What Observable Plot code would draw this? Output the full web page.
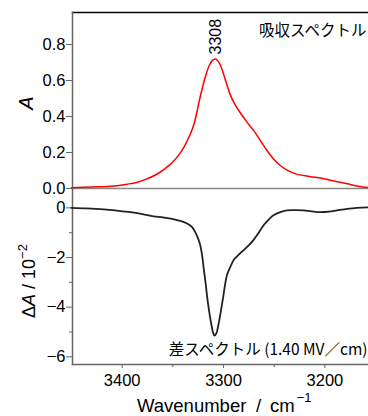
<!DOCTYPE html>
<html><head><meta charset="utf-8">
<script src="https://cdn.jsdelivr.net/npm/d3@7"></script>
<script src="https://cdn.jsdelivr.net/npm/@observablehq/plot@0.6"></script>
<style>
body{margin:0;background:#fff;}
#chart{width:368px;height:416px;position:relative;}
#chart svg{display:block;overflow:visible;}
</style></head>
<body><div id="chart"></div>
<script>
// Absorption spectrum (top)
const absWavenumber = [3450,3430,3411,3395,3385,3375,3365,3352,3345,3339,3333,3329,3323,3318,3314,3311,3308,3305,3302,3298,3294,3290,3284,3277,3270,3263,3257,3250,3244,3236,3228,3215,3201,3190,3178,3167,3157];
const absValue = [0.004,0.008,0.013,0.024,0.035,0.055,0.082,0.137,0.18,0.23,0.30,0.36,0.51,0.62,0.685,0.712,0.72,0.705,0.67,0.60,0.53,0.48,0.425,0.37,0.32,0.26,0.21,0.16,0.128,0.098,0.08,0.067,0.054,0.040,0.026,0.013,0.005];
// Difference spectrum (bottom), units of 10^-2
const diffWavenumber = [3450,3435,3418,3405,3392,3380,3369,3360,3352,3344,3336,3331,3328,3325,3323,3321,3319.6,3317.5,3315.6,3313.5,3312,3310.5,3308.8,3307,3305,3303,3300.5,3298.5,3296.6,3293,3290,3285,3280,3275,3270.5,3265,3260.5,3255,3250.7,3244,3237.5,3229,3221,3213,3204.7,3196,3188,3178,3168.5,3157];
const diffValue = [0,-0.02,-0.06,-0.11,-0.17,-0.25,-0.34,-0.38,-0.43,-0.51,-0.63,-0.78,-0.97,-1.25,-1.5,-1.95,-2.43,-3.1,-3.77,-4.35,-4.7,-5.0,-5.15,-5.05,-4.7,-4.25,-3.63,-3.1,-2.7,-2.35,-2.1,-1.88,-1.7,-1.5,-1.3,-0.98,-0.7,-0.45,-0.3,-0.17,-0.1,-0.09,-0.1,-0.14,-0.17,-0.15,-0.1,-0.04,0,0.02];

const xTicks = [3400,3300,3200];
const xMinorTicks = [3350,3250];
const absTicks = [0,0.2,0.4,0.6,0.8];
const diffTicks = [0,-2,-4,-6];
const diffMinorTicks = [-1,-3,-5];
const peakLabel = [3308];
const absTitle = ["吸収スペクトル"];
const diffTitle = ["差スペクトル (1.40 MV／cm)"];

const xDomain = [3449,3157];
const font = "'Liberation Sans', Arial, 'Noto Sans CJK JP', sans-serif";
const jpFont = "'Noto Sans CJK JP', sans-serif";
const axisGray = "#666";

const absData = absWavenumber.map((x,i)=>({x, y:absValue[i]}));
const diffData = diffWavenumber.map((x,i)=>({x, y:diffValue[i]}));
const fmtMinus = d => d < 0 ? "\u2212" + Math.abs(d) : String(d);
const blank = () => "";

const topPlot = Plot.plot({
  width:368, height:189, marginLeft:72, marginRight:0, marginTop:12, marginBottom:1,
  style:{fontFamily:font, fontSize:"16px", color:"#000", background:"transparent"},
  x:{domain:xDomain, axis:null},
  y:{domain:[0,0.978], axis:null},
  marks:[
    Plot.frame({anchor:"top", stroke:"#000", strokeWidth:1.5}),
    Plot.frame({anchor:"left", stroke:axisGray, strokeWidth:1.5}),
    Plot.ruleY([0], {stroke:"#888", strokeWidth:1.5}),
    Plot.axisY(absTicks, {tickSize:6, tickPadding:1, stroke:axisGray, tickFormat:d3.format(".1f"), label:null, fontSize:16.5}),
    Plot.line(absData, {x:"x", y:"y", stroke:"#ff0000", strokeWidth:1.5, curve:"catmull-rom"}),
    Plot.text(peakLabel, {x:d=>d, y:[0.745], text:d=>String(d), rotate:-90, textAnchor:"start", lineAnchor:"middle", fontSize:16}),
    Plot.text(absTitle, {frameAnchor:"top-right", text:d=>d, dx:-2, dy:19, textAnchor:"end", lineAnchor:"middle", fontSize:15.5, fontFamily:jpFont})
  ]
});

const bottomPlot = Plot.plot({
  width:368, height:227, marginLeft:72, marginRight:0, marginTop:0, marginBottom:52,
  style:{fontFamily:font, fontSize:"16px", color:"#000", background:"transparent"},
  x:{domain:xDomain, axis:null},
  y:{domain:[-6.31,0.74], axis:null},
  marks:[
    Plot.frame({anchor:"left", stroke:axisGray, strokeWidth:1.5}),
    Plot.frame({anchor:"bottom", stroke:axisGray, strokeWidth:1.5}),
    Plot.axisY(diffTicks, {tickSize:6, tickPadding:1, stroke:axisGray, tickFormat:fmtMinus, label:null, fontSize:16.5}),
    Plot.axisY(diffMinorTicks, {tickSize:3, stroke:axisGray, tickFormat:blank, label:null}),
    Plot.axisX(xTicks, {tickSize:4, tickPadding:6, stroke:axisGray, tickFormat:d=>String(d), label:null, fontSize:16.5}),
    Plot.axisX(xMinorTicks, {tickSize:3, stroke:axisGray, tickFormat:blank, label:null}),
    Plot.line(diffData, {x:"x", y:"y", stroke:"#222", strokeWidth:1.8, curve:"catmull-rom"}),
    Plot.text(diffTitle, {frameAnchor:"bottom-right", text:d=>d, dx:-1, dy:-14, textAnchor:"end", lineAnchor:"middle", fontSize:15.5, fontFamily:jpFont})
  ]
});

const chart = document.getElementById("chart");
chart.appendChild(topPlot);
chart.appendChild(bottomPlot);

// axis titles with italic / superscript parts
const ts = d3.select(topPlot);
const tA = ts.append("text").attr("transform","translate(33,103) rotate(-90)")
  .attr("text-anchor","middle").attr("font-size",20).attr("font-family",font).attr("fill","#000");
tA.append("tspan").attr("font-style","italic").text("A");

const bs = d3.select(bottomPlot);
const tD = bs.append("text").attr("transform","translate(35,129) rotate(-90)")
  .attr("text-anchor","start").attr("font-size",18).attr("font-family",font).attr("fill","#000");
tD.append("tspan").text("\u0394");
tD.append("tspan").attr("font-style","italic").text("A");
tD.append("tspan").text(" / 10");
tD.append("tspan").attr("font-size",13).attr("dy",-8).text("\u22122");

const tX = bs.append("text").attr("y",223).attr("text-anchor","start").attr("font-size",18.5).attr("font-family",font).attr("fill","#000");
tX.append("tspan").attr("x",137).text("Wavenumber");
tX.append("tspan").attr("x",256).text("/");
tX.append("tspan").attr("x",270).text("cm");
tX.append("tspan").attr("font-size",13).attr("dy",-10).attr("dx",2).text("\u22121");
</script></body></html>
